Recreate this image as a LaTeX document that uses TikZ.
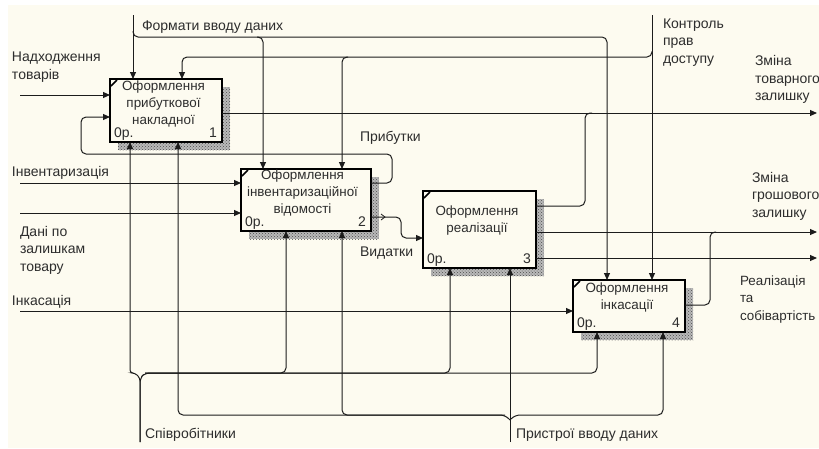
\documentclass[tikz,border=0pt]{standalone}
\usepackage{fontspec}
\setmainfont{Liberation Sans}
\usetikzlibrary{arrows.meta,patterns,calc}
\definecolor{paper}{RGB}{253,251,240}
\definecolor{ink}{RGB}{28,28,28}
\definecolor{txt}{RGB}{45,45,45}
\pgfdeclarelayer{paperlayer}
\pgfdeclarelayer{shadowlayer}
\pgfsetlayers{paperlayer,shadowlayer,main}
\begin{document}
\begin{tikzpicture}[x=1pt,y=-1pt,
  every node/.style={font=\fontsize{14}{17.5}\selectfont, text=txt, inner sep=0pt, outer sep=0pt},
  wire/.style={draw=ink, line width=1pt, rounded corners=5pt},
  arr/.style={wire, -{Triangle[length=7pt,width=6pt]}},
  act/.style={draw=black, line width=2pt, fill=paper, inner sep=0pt},
  hatch/.style={preaction={fill=gray!55}, pattern=crosshatch dots, pattern color=gray!60!black},
  lbl/.style={align=left, anchor=west},
  ttl/.style={align=center, font=\fontsize{13.4}{17}\selectfont}
]
\useasboundingbox (0,0) rectangle (819,448);
\begin{pgfonlayer}{paperlayer}
  \fill[white] (0,0) rectangle (819,448);
  \fill[paper] (8,5) rectangle (819,448);
\end{pgfonlayer}

% activity boxes
\node[act, minimum width=112, minimum height=63] (b1) at (166,110.5) {};
\node[act, minimum width=130, minimum height=62] (b2) at (306,200) {};
\node[act, minimum width=113, minimum height=77] (b3) at (479.5,229.5) {};
\node[act, minimum width=112, minimum height=52] (b4) at (629,306) {};

% hatched shadows, corner marks, cost and number fields
\foreach \b/\n in {b1/1,b2/2,b3/3,b4/4}{
  \begin{pgfonlayer}{shadowlayer}
    \fill[hatch] ($(\b.north west)+(8,8)$) rectangle ($(\b.south east)+(8,8)$);
  \end{pgfonlayer}
  \draw[black, line width=1.6pt] ($(\b.north west)+(1,7)$) -- ($(\b.north west)+(7,1)$);
  \node[anchor=base west] (\b c) at ($(\b.south west)+(4,-5)$) {0р.};
  \node[anchor=base east] (\b n) at ($(\b.south east)+(-5,-5)$) {\n};
}

% activity names
\node[ttl] (b1t) at (163.5,103.5) {Оформлення\\прибуткової\\накладної};
\node[ttl] (b2t) at (302.5,192.5) {Оформлення\\інвентаризаційної\\відомості};
\node[ttl] (b3t) at (477,221) {Оформлення\\реалізації};
\node[ttl] (b4t) at (627,297.5) {Оформлення\\інкасації};

% free ends of boundary arrows
\coordinate (fTop) at (133,15);
\coordinate (kTop) at (652,15);
\coordinate (inNad) at (20,95);
\coordinate (inInv) at (20,183);
\coordinate (inDan) at (20,213);
\coordinate (inInk) at (20,311);
\coordinate (outTov) at (817,113);
\coordinate (outGro) at (817,232);
\coordinate (outReal) at (817,258);
\coordinate (mSpiv) at (140,442);
\coordinate (mPryst) at (510,442);

% controls
\draw[arr] (fTop) -- (fTop |- b1.north);
\draw[arr] (133,31) -- (133,37) -- (607,37) -- (607,0 |- b4.north);
\draw[arr] (257,37) -- (263,37) -- (263,0 |- b2.north);
\draw[arr] (kTop) -- (kTop |- b4.north);
\draw[arr] (652,51) -- (652,57) -- (182,57) -- (182,0 |- b1.north);
\draw[arr] (348,57) -- (342,57) -- (342,0 |- b2.north);

% inputs
\draw[arr] (inNad) -- (b1.west |- inNad);
\draw[arr] (inInv) -- (b2.west |- inInv);
\draw[arr] (inDan) -- (b2.west |- inDan);
\draw[arr] (inInk) -- (b4.west |- inInk);

% feedback from box 2 to box 1
\draw[arr] (b2.east |- 0,183) -- (392,183) -- (392,154) -- (81,154) -- (81,117) -- (b1.west |- 0,117);

% box 2 to box 3
\draw[arr] (b2.east |- 0,217) -- (401,217) -- (401,238) -- (b3.west |- 0,238);
\draw[ink, line width=0.8pt] (381,214) -- (385,217) -- (381,220);

% outputs
\draw[arr] (b1.east |- outTov) -- (outTov);
\draw[wire] (b3.east |- 0,206) -- (585,206) -- (585,113) -- (592,113);
\draw[arr] (b3.east |- outGro) -- (outGro);
\draw[arr] (b3.east |- outReal) -- (outReal);
\draw[wire] (b4.east |- 0,305) -- (710,305) -- (710,232) -- (716,232);

% mechanisms: staff
\draw[arr, rounded corners=3pt] (mSpiv) -- (140,378) -- (135,373) -- (130,373) -- (130,0 |- b1.south);
\draw[arr] (mSpiv) -- (140,378) -- (145,373) -- (286,373) -- (286,0 |- b2.south);
\draw[arr] (145,373) -- (450,373) -- (450,0 |- b3.south);
\draw[arr] (145,373) -- (597,373) -- (597,0 |- b4.south);

% mechanisms: input devices
\draw[arr] (mPryst) -- (mPryst |- b3.south);
\draw[arr] (510,420) -- (505,415) -- (178,415) -- (178,0 |- b1.south);
\draw[arr] (505,415) -- (342,415) -- (342,0 |- b2.south);
\draw[arr] (510,420) -- (515,415) -- (663,415) -- (663,0 |- b4.south);

% arrow labels
\node[lbl] (lFor) at (142,27) {Формати вводу даних};
\node[lbl] (lKon) at (663,42.5) {Контроль\\прав\\доступу};
\node[lbl] (lNad) at (12,67) {Надходження\\товарів};
\node[lbl] (lPryb) at (360,138) {Прибутки};
\node[lbl] (lInv) at (12,173) {Інвентаризація};
\node[lbl] (lDan) at (20,250) {Дані по\\залишкам\\товару};
\node[lbl] (lVyd) at (360,253) {Видатки};
\node[lbl] (lInk) at (12,302) {Інкасація};
\node[lbl] (lTov) at (755,79.5) {Зміна\\товарного\\залишку};
\node[lbl] (lGro) at (752,196) {Зміна\\грошового\\залишку};
\node[lbl, font=\fontsize{13.4}{17.5}\selectfont] (lReal) at (740,299.5) {Реалізація\\та\\собівартість};
\node[lbl] (lSpiv) at (145,435) {Співробітники};
\node[lbl] (lPryst) at (516,435) {Пристрої вводу даних};
\end{tikzpicture}
\end{document}
